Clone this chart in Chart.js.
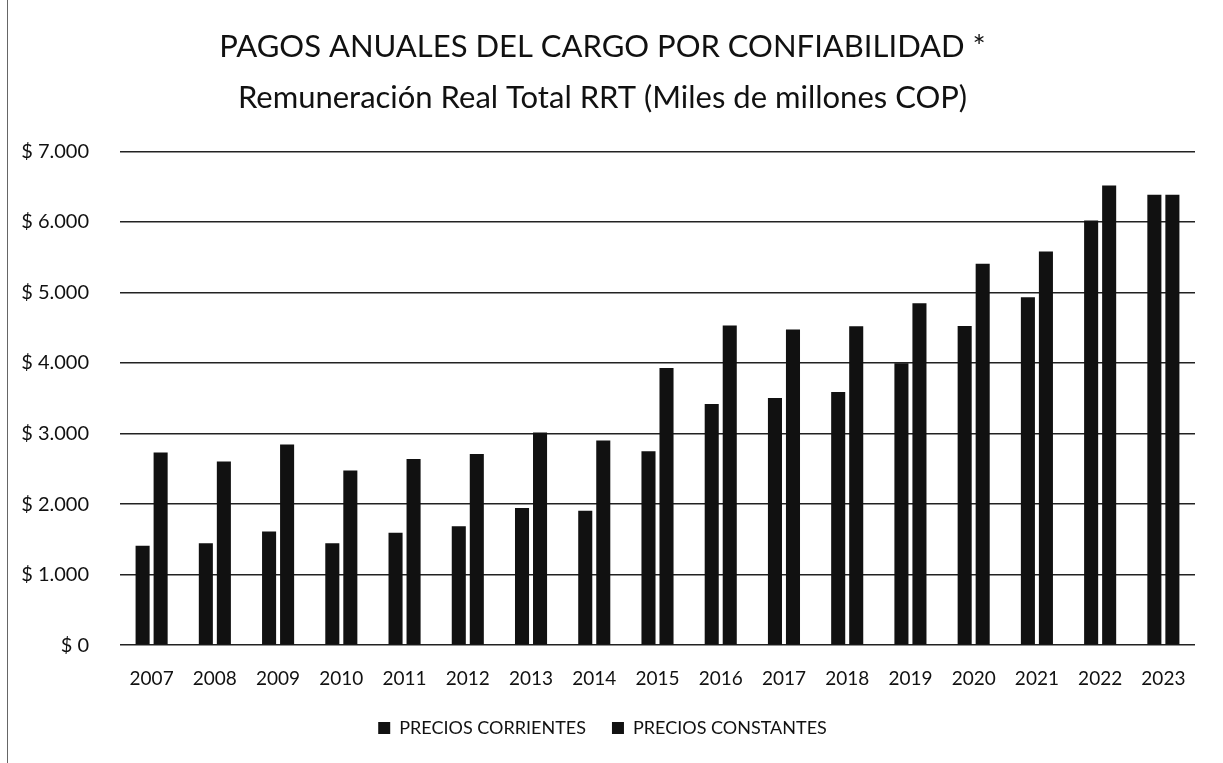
<!DOCTYPE html>
<html lang="es">
<head>
  <meta charset="UTF-8" />
  <title>Pagos anuales del cargo por confiabilidad</title>
  <script src="https://cdn.jsdelivr.net/npm/chart.js"></script>
  <style>
    html, body {
      margin: 0;
      padding: 0;
      background: #fff;
    }
    .wrap {
      position: relative;
      width: 1223px;
      height: 763px;
    }
    .wrap::before {
      content: '';
      position: absolute;
      left: 7px;
      top: 0;
      bottom: 0;
      border-left: 1px solid #666;
    }
  </style>
</head>
<body>
  <div class="wrap">
    <canvas id="rrtChart" width="1223" height="763"></canvas>
  </div>

  <script>
    const years = ['2007', '2008', '2009', '2010', '2011', '2012', '2013', '2014', '2015',
                   '2016', '2017', '2018', '2019', '2020', '2021', '2022', '2023'];
    const preciosCorrientes = [1410, 1445, 1610, 1445, 1595, 1685, 1945, 1905, 2750,
                               3420, 3505, 3590, 3995, 4525, 4930, 6020, 6385];
    const preciosConstantes = [2730, 2605, 2845, 2475, 2640, 2710, 3015, 2900, 3930,
                               4530, 4475, 4520, 4845, 5405, 5580, 6515, 6385];
    const yTicks = [0, 1000, 2000, 3000, 4000, 5000, 6000, 7000];

    const font = "Lato, 'Open Sans', sans-serif";

    new Chart(document.getElementById('rrtChart'), {
      type: 'bar',
      data: {
        labels: years,
        datasets: [
          {
            label: 'PRECIOS CORRIENTES',
            data: preciosCorrientes,
            backgroundColor: '#111',
            categoryPercentage: 0.57,
            barPercentage: 0.78
          },
          {
            label: 'PRECIOS CONSTANTES',
            data: preciosConstantes,
            backgroundColor: '#111',
            categoryPercentage: 0.57,
            barPercentage: 0.78
          }
        ]
      },
      options: {
        responsive: false,
        animation: false,
        layout: { padding: { left: 10, right: 28, top: 21, bottom: 16 } },
        scales: {
          x: {
            grid: { display: false },
            border: { display: false },
            afterFit: axis => { axis.height -= 11; },
            ticks: { color: '#111', font: { family: font, size: 19 }, padding: 14 }
          },
          y: {
            min: 0,
            max: 7000,
            afterFit: axis => { axis.width = 110; },
            afterBuildTicks: axis => { axis.ticks = yTicks.map(v => ({ value: v })); },
            grid: { color: '#222', lineWidth: 1.5, drawTicks: false },
            border: { display: false },
            ticks: {
              color: '#111',
              padding: 31,
              font: { family: font, size: 20 },
              callback: v => '$ ' + v.toLocaleString('de-DE')
            }
          }
        },
        plugins: {
          title: {
            display: true,
            text: ['PAGOS ANUALES DEL CARGO POR CONFIABILIDAD *',
                   'Remuneración Real Total RRT (Miles de millones COP)'],
            color: '#111',
            font: { family: font, size: 31, weight: 'normal', lineHeight: 1.65 },
            padding: { top: 0, bottom: 28 }
          },
          legend: {
            position: 'bottom',
            labels: {
              color: '#111',
              font: { family: font, size: 18 },
              boxWidth: 12,
              boxHeight: 12,
              padding: 26
            }
          },
          tooltip: { enabled: false }
        }
      }
    });
  </script>
</body>
</html>
